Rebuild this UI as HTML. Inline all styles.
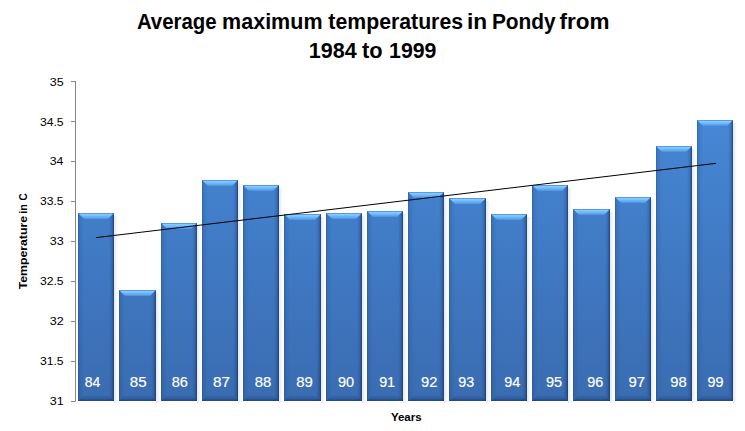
<!DOCTYPE html>
<html><head><meta charset="utf-8"><style>
html,body{margin:0;padding:0;background:#fff;width:745px;height:431px;overflow:hidden;}
svg{display:block;font-family:"Liberation Sans",sans-serif;}
</style></head><body>
<svg width="745" height="431" viewBox="0 0 745 431">
<defs>
<linearGradient id="body" gradientUnits="userSpaceOnUse" x1="0" y1="120" x2="0" y2="401">
 <stop offset="0" stop-color="#4687d5"/>
 <stop offset="1" stop-color="#3a6cb1"/>
</linearGradient>
<linearGradient id="topb" x1="0" y1="0" x2="0" y2="1">
 <stop offset="0" stop-color="#3f80d0"/>
 <stop offset="0.12" stop-color="#5ea6f0"/>
 <stop offset="0.25" stop-color="#82c9ff"/>
 <stop offset="0.5" stop-color="#74bbfb"/>
 <stop offset="0.8" stop-color="#5da2ec"/>
 <stop offset="1" stop-color="#4d8fdc"/>
</linearGradient>
<linearGradient id="leftb" x1="0" y1="0" x2="1" y2="0">
 <stop offset="0" stop-color="#163c78" stop-opacity="0.5"/>
 <stop offset="0.2" stop-color="#163c78" stop-opacity="0.17"/>
 <stop offset="1" stop-color="#163c78" stop-opacity="0"/>
</linearGradient>
<linearGradient id="rightb" x1="0" y1="0" x2="1" y2="0">
 <stop offset="0" stop-color="#0e2e62" stop-opacity="0"/>
 <stop offset="0.5" stop-color="#0e2e62" stop-opacity="0.18"/>
 <stop offset="0.8" stop-color="#0e2e62" stop-opacity="0.42"/>
 <stop offset="1" stop-color="#0e2e62" stop-opacity="0.8"/>
</linearGradient>
<linearGradient id="botb" x1="0" y1="0" x2="0" y2="1">
 <stop offset="0" stop-color="#0e2e62" stop-opacity="0"/>
 <stop offset="0.6" stop-color="#0e2e62" stop-opacity="0.25"/>
 <stop offset="1" stop-color="#0e2e62" stop-opacity="0.6"/>
</linearGradient>
<linearGradient id="shad" x1="0" y1="0" x2="1" y2="0">
 <stop offset="0" stop-color="#000" stop-opacity="0.10"/>
 <stop offset="1" stop-color="#000" stop-opacity="0"/>
</linearGradient>
</defs>
<rect x="75" y="81" width="1" height="320.5" fill="#868686"/>
<rect x="71" y="81" width="4" height="1" fill="#868686"/>
<rect x="71" y="121" width="4" height="1" fill="#868686"/>
<rect x="71" y="161" width="4" height="1" fill="#868686"/>
<rect x="71" y="201" width="4" height="1" fill="#868686"/>
<rect x="71" y="241" width="4" height="1" fill="#868686"/>
<rect x="71" y="281" width="4" height="1" fill="#868686"/>
<rect x="71" y="321" width="4" height="1" fill="#868686"/>
<rect x="71" y="361" width="4" height="1" fill="#868686"/>
<rect x="71" y="401" width="4" height="1" fill="#868686"/>
<text x="49.72" y="86.40" font-family="Liberation Sans" font-size="11.2" fill="#000" textLength="13.90" lengthAdjust="spacingAndGlyphs">35</text>
<text x="39.94" y="126.40" font-family="Liberation Sans" font-size="11.2" fill="#000" textLength="23.67" lengthAdjust="spacingAndGlyphs">34.5</text>
<text x="49.73" y="165.40" font-family="Liberation Sans" font-size="11.2" fill="#000" textLength="13.73" lengthAdjust="spacingAndGlyphs">34</text>
<text x="39.94" y="205.40" font-family="Liberation Sans" font-size="11.2" fill="#000" textLength="23.67" lengthAdjust="spacingAndGlyphs">33.5</text>
<text x="49.72" y="245.40" font-family="Liberation Sans" font-size="11.2" fill="#000" textLength="13.93" lengthAdjust="spacingAndGlyphs">33</text>
<text x="39.94" y="285.40" font-family="Liberation Sans" font-size="11.2" fill="#000" textLength="23.67" lengthAdjust="spacingAndGlyphs">32.5</text>
<text x="49.72" y="325.40" font-family="Liberation Sans" font-size="11.2" fill="#000" textLength="14.01" lengthAdjust="spacingAndGlyphs">32</text>
<text x="39.94" y="365.40" font-family="Liberation Sans" font-size="11.2" fill="#000" textLength="23.67" lengthAdjust="spacingAndGlyphs">31.5</text>
<text x="49.72" y="405.40" font-family="Liberation Sans" font-size="11.2" fill="#000" textLength="13.99" lengthAdjust="spacingAndGlyphs">31</text>
<g>
<rect x="114.00" y="216.00" width="4" height="187.00" fill="url(#shad)"/>
<rect x="78.00" y="213.00" width="36" height="188.00" fill="url(#body)"/>
<rect x="78.00" y="213.00" width="6" height="188.00" fill="url(#leftb)"/>
<rect x="109.00" y="213.00" width="5" height="188.00" fill="url(#rightb)"/>
<polygon points="78.00,401.00 84.00,395.00 108.00,395.00 114.00,401.00" fill="url(#botb)"/>
<polygon points="78.00,213.00 114.00,213.00 108.00,219.00 84.00,219.00" fill="url(#topb)"/>
</g>
<text x="84.69" y="387" font-family="Liberation Sans" font-size="15" fill="#fff" stroke="#fff" stroke-width="0.2" textLength="15.51" lengthAdjust="spacingAndGlyphs">84</text>
<g>
<rect x="156.00" y="293.00" width="4" height="110.00" fill="url(#shad)"/>
<rect x="119.00" y="290.00" width="37" height="111.00" fill="url(#body)"/>
<rect x="119.00" y="290.00" width="6" height="111.00" fill="url(#leftb)"/>
<rect x="151.00" y="290.00" width="5" height="111.00" fill="url(#rightb)"/>
<polygon points="119.00,401.00 125.00,395.00 150.00,395.00 156.00,401.00" fill="url(#botb)"/>
<polygon points="119.00,290.00 156.00,290.00 150.00,296.00 125.00,296.00" fill="url(#topb)"/>
</g>
<text x="129.84" y="387" font-family="Liberation Sans" font-size="15" fill="#fff" stroke="#fff" stroke-width="0.2" textLength="16.79" lengthAdjust="spacingAndGlyphs">85</text>
<g>
<rect x="197.00" y="226.00" width="4" height="177.00" fill="url(#shad)"/>
<rect x="161.00" y="223.00" width="36" height="178.00" fill="url(#body)"/>
<rect x="161.00" y="223.00" width="6" height="178.00" fill="url(#leftb)"/>
<rect x="192.00" y="223.00" width="5" height="178.00" fill="url(#rightb)"/>
<polygon points="161.00,401.00 167.00,395.00 191.00,395.00 197.00,401.00" fill="url(#botb)"/>
<polygon points="161.00,223.00 197.00,223.00 191.00,229.00 167.00,229.00" fill="url(#topb)"/>
</g>
<text x="171.77" y="387" font-family="Liberation Sans" font-size="15" fill="#fff" stroke="#fff" stroke-width="0.2" textLength="16.17" lengthAdjust="spacingAndGlyphs">86</text>
<g>
<rect x="238.00" y="183.00" width="4" height="220.00" fill="url(#shad)"/>
<rect x="202.00" y="180.00" width="36" height="221.00" fill="url(#body)"/>
<rect x="202.00" y="180.00" width="6" height="221.00" fill="url(#leftb)"/>
<rect x="233.00" y="180.00" width="5" height="221.00" fill="url(#rightb)"/>
<polygon points="202.00,401.00 208.00,395.00 232.00,395.00 238.00,401.00" fill="url(#botb)"/>
<polygon points="202.00,180.00 238.00,180.00 232.00,186.00 208.00,186.00" fill="url(#topb)"/>
</g>
<text x="213.03" y="387" font-family="Liberation Sans" font-size="15" fill="#fff" stroke="#fff" stroke-width="0.2" textLength="17.04" lengthAdjust="spacingAndGlyphs">87</text>
<g>
<rect x="279.00" y="188.00" width="4" height="215.00" fill="url(#shad)"/>
<rect x="243.00" y="185.00" width="36" height="216.00" fill="url(#body)"/>
<rect x="243.00" y="185.00" width="6" height="216.00" fill="url(#leftb)"/>
<rect x="274.00" y="185.00" width="5" height="216.00" fill="url(#rightb)"/>
<polygon points="243.00,401.00 249.00,395.00 273.00,395.00 279.00,401.00" fill="url(#botb)"/>
<polygon points="243.00,185.00 279.00,185.00 273.00,191.00 249.00,191.00" fill="url(#topb)"/>
</g>
<text x="254.66" y="387" font-family="Liberation Sans" font-size="15" fill="#fff" stroke="#fff" stroke-width="0.2" textLength="16.49" lengthAdjust="spacingAndGlyphs">88</text>
<g>
<rect x="321.00" y="217.00" width="4" height="186.00" fill="url(#shad)"/>
<rect x="284.00" y="214.00" width="37" height="187.00" fill="url(#body)"/>
<rect x="284.00" y="214.00" width="6" height="187.00" fill="url(#leftb)"/>
<rect x="316.00" y="214.00" width="5" height="187.00" fill="url(#rightb)"/>
<polygon points="284.00,401.00 290.00,395.00 315.00,395.00 321.00,401.00" fill="url(#botb)"/>
<polygon points="284.00,214.00 321.00,214.00 315.00,220.00 290.00,220.00" fill="url(#topb)"/>
</g>
<text x="296.25" y="387" font-family="Liberation Sans" font-size="15" fill="#fff" stroke="#fff" stroke-width="0.2" textLength="16.55" lengthAdjust="spacingAndGlyphs">89</text>
<g>
<rect x="362.00" y="216.00" width="4" height="187.00" fill="url(#shad)"/>
<rect x="326.00" y="213.00" width="36" height="188.00" fill="url(#body)"/>
<rect x="326.00" y="213.00" width="6" height="188.00" fill="url(#leftb)"/>
<rect x="357.00" y="213.00" width="5" height="188.00" fill="url(#rightb)"/>
<polygon points="326.00,401.00 332.00,395.00 356.00,395.00 362.00,401.00" fill="url(#botb)"/>
<polygon points="326.00,213.00 362.00,213.00 356.00,219.00 332.00,219.00" fill="url(#topb)"/>
</g>
<text x="337.92" y="387" font-family="Liberation Sans" font-size="15" fill="#fff" stroke="#fff" stroke-width="0.2" textLength="16.15" lengthAdjust="spacingAndGlyphs">90</text>
<g>
<rect x="403.00" y="214.00" width="4" height="189.00" fill="url(#shad)"/>
<rect x="367.00" y="211.00" width="36" height="190.00" fill="url(#body)"/>
<rect x="367.00" y="211.00" width="6" height="190.00" fill="url(#leftb)"/>
<rect x="398.00" y="211.00" width="5" height="190.00" fill="url(#rightb)"/>
<polygon points="367.00,401.00 373.00,395.00 397.00,395.00 403.00,401.00" fill="url(#botb)"/>
<polygon points="367.00,211.00 403.00,211.00 397.00,217.00 373.00,217.00" fill="url(#topb)"/>
</g>
<text x="379.13" y="387" font-family="Liberation Sans" font-size="15" fill="#fff" stroke="#fff" stroke-width="0.2" textLength="15.97" lengthAdjust="spacingAndGlyphs">91</text>
<g>
<rect x="444.00" y="195.00" width="4" height="208.00" fill="url(#shad)"/>
<rect x="408.00" y="192.00" width="36" height="209.00" fill="url(#body)"/>
<rect x="408.00" y="192.00" width="6" height="209.00" fill="url(#leftb)"/>
<rect x="439.00" y="192.00" width="5" height="209.00" fill="url(#rightb)"/>
<polygon points="408.00,401.00 414.00,395.00 438.00,395.00 444.00,401.00" fill="url(#botb)"/>
<polygon points="408.00,192.00 444.00,192.00 438.00,198.00 414.00,198.00" fill="url(#topb)"/>
</g>
<text x="421.11" y="387" font-family="Liberation Sans" font-size="15" fill="#fff" stroke="#fff" stroke-width="0.2" textLength="16.33" lengthAdjust="spacingAndGlyphs">92</text>
<g>
<rect x="486.00" y="201.00" width="4" height="202.00" fill="url(#shad)"/>
<rect x="449.00" y="198.00" width="37" height="203.00" fill="url(#body)"/>
<rect x="449.00" y="198.00" width="6" height="203.00" fill="url(#leftb)"/>
<rect x="481.00" y="198.00" width="5" height="203.00" fill="url(#rightb)"/>
<polygon points="449.00,401.00 455.00,395.00 480.00,395.00 486.00,401.00" fill="url(#botb)"/>
<polygon points="449.00,198.00 486.00,198.00 480.00,204.00 455.00,204.00" fill="url(#topb)"/>
</g>
<text x="458.23" y="387" font-family="Liberation Sans" font-size="15" fill="#fff" stroke="#fff" stroke-width="0.2" textLength="15.90" lengthAdjust="spacingAndGlyphs">93</text>
<g>
<rect x="527.00" y="217.00" width="4" height="186.00" fill="url(#shad)"/>
<rect x="491.00" y="214.00" width="36" height="187.00" fill="url(#body)"/>
<rect x="491.00" y="214.00" width="6" height="187.00" fill="url(#leftb)"/>
<rect x="522.00" y="214.00" width="5" height="187.00" fill="url(#rightb)"/>
<polygon points="491.00,401.00 497.00,395.00 521.00,395.00 527.00,401.00" fill="url(#botb)"/>
<polygon points="491.00,214.00 527.00,214.00 521.00,220.00 497.00,220.00" fill="url(#topb)"/>
</g>
<text x="504.22" y="387" font-family="Liberation Sans" font-size="15" fill="#fff" stroke="#fff" stroke-width="0.2" textLength="16.10" lengthAdjust="spacingAndGlyphs">94</text>
<g>
<rect x="568.00" y="188.00" width="4" height="215.00" fill="url(#shad)"/>
<rect x="532.00" y="185.00" width="36" height="216.00" fill="url(#body)"/>
<rect x="532.00" y="185.00" width="6" height="216.00" fill="url(#leftb)"/>
<rect x="563.00" y="185.00" width="5" height="216.00" fill="url(#rightb)"/>
<polygon points="532.00,401.00 538.00,395.00 562.00,395.00 568.00,401.00" fill="url(#botb)"/>
<polygon points="532.00,185.00 568.00,185.00 562.00,191.00 538.00,191.00" fill="url(#topb)"/>
</g>
<text x="545.92" y="387" font-family="Liberation Sans" font-size="15" fill="#fff" stroke="#fff" stroke-width="0.2" textLength="16.19" lengthAdjust="spacingAndGlyphs">95</text>
<g>
<rect x="610.00" y="212.00" width="4" height="191.00" fill="url(#shad)"/>
<rect x="573.00" y="209.00" width="37" height="192.00" fill="url(#body)"/>
<rect x="573.00" y="209.00" width="6" height="192.00" fill="url(#leftb)"/>
<rect x="605.00" y="209.00" width="5" height="192.00" fill="url(#rightb)"/>
<polygon points="573.00,401.00 579.00,395.00 604.00,395.00 610.00,401.00" fill="url(#botb)"/>
<polygon points="573.00,209.00 610.00,209.00 604.00,215.00 579.00,215.00" fill="url(#topb)"/>
</g>
<text x="587.23" y="387" font-family="Liberation Sans" font-size="15" fill="#fff" stroke="#fff" stroke-width="0.2" textLength="16.01" lengthAdjust="spacingAndGlyphs">96</text>
<g>
<rect x="651.00" y="200.00" width="4" height="203.00" fill="url(#shad)"/>
<rect x="615.00" y="197.00" width="36" height="204.00" fill="url(#body)"/>
<rect x="615.00" y="197.00" width="6" height="204.00" fill="url(#leftb)"/>
<rect x="646.00" y="197.00" width="5" height="204.00" fill="url(#rightb)"/>
<polygon points="615.00,401.00 621.00,395.00 645.00,395.00 651.00,401.00" fill="url(#botb)"/>
<polygon points="615.00,197.00 651.00,197.00 645.00,203.00 621.00,203.00" fill="url(#topb)"/>
</g>
<text x="628.40" y="387" font-family="Liberation Sans" font-size="15" fill="#fff" stroke="#fff" stroke-width="0.2" textLength="16.65" lengthAdjust="spacingAndGlyphs">97</text>
<g>
<rect x="692.00" y="149.00" width="4" height="254.00" fill="url(#shad)"/>
<rect x="656.00" y="146.00" width="36" height="255.00" fill="url(#body)"/>
<rect x="656.00" y="146.00" width="6" height="255.00" fill="url(#leftb)"/>
<rect x="687.00" y="146.00" width="5" height="255.00" fill="url(#rightb)"/>
<polygon points="656.00,401.00 662.00,395.00 686.00,395.00 692.00,401.00" fill="url(#botb)"/>
<polygon points="656.00,146.00 692.00,146.00 686.00,152.00 662.00,152.00" fill="url(#topb)"/>
</g>
<text x="670.21" y="387" font-family="Liberation Sans" font-size="15" fill="#fff" stroke="#fff" stroke-width="0.2" textLength="16.43" lengthAdjust="spacingAndGlyphs">98</text>
<g>
<rect x="733.00" y="123.00" width="4" height="280.00" fill="url(#shad)"/>
<rect x="697.00" y="120.00" width="36" height="281.00" fill="url(#body)"/>
<rect x="697.00" y="120.00" width="6" height="281.00" fill="url(#leftb)"/>
<rect x="728.00" y="120.00" width="5" height="281.00" fill="url(#rightb)"/>
<polygon points="697.00,401.00 703.00,395.00 727.00,395.00 733.00,401.00" fill="url(#botb)"/>
<polygon points="697.00,120.00 733.00,120.00 727.00,126.00 703.00,126.00" fill="url(#topb)"/>
</g>
<text x="707.53" y="387" font-family="Liberation Sans" font-size="15" fill="#fff" stroke="#fff" stroke-width="0.2" textLength="15.95" lengthAdjust="spacingAndGlyphs">99</text>
<line x1="96.3" y1="237.6" x2="715.5" y2="163.4" stroke="#000" stroke-width="1.0" stroke-linecap="round"/>
<text x="136.90" y="28.9" font-family="Liberation Sans" font-weight="bold" font-size="21.6" fill="#000" textLength="79.79" lengthAdjust="spacingAndGlyphs">Average</text>
<text x="222.08" y="28.9" font-family="Liberation Sans" font-weight="bold" font-size="21.6" fill="#000" textLength="100.45" lengthAdjust="spacingAndGlyphs">maximum</text>
<text x="328.34" y="28.9" font-family="Liberation Sans" font-weight="bold" font-size="21.6" fill="#000" textLength="134.73" lengthAdjust="spacingAndGlyphs">temperatures</text>
<text x="467.01" y="28.9" font-family="Liberation Sans" font-weight="bold" font-size="21.6" fill="#000" textLength="20.20" lengthAdjust="spacingAndGlyphs">in</text>
<text x="491.90" y="28.9" font-family="Liberation Sans" font-weight="bold" font-size="21.6" fill="#000" textLength="63.81" lengthAdjust="spacingAndGlyphs">Pondy</text>
<text x="559.51" y="28.9" font-family="Liberation Sans" font-weight="bold" font-size="21.6" fill="#000" textLength="50.08" lengthAdjust="spacingAndGlyphs">from</text>
<text x="308.84" y="57.9" font-family="Liberation Sans" font-weight="bold" font-size="21.6" fill="#000" textLength="47.97" lengthAdjust="spacingAndGlyphs">1984</text>
<text x="362.03" y="57.9" font-family="Liberation Sans" font-weight="bold" font-size="21.6" fill="#000" textLength="20.62" lengthAdjust="spacingAndGlyphs">to</text>
<text x="389.06" y="57.9" font-family="Liberation Sans" font-weight="bold" font-size="21.6" fill="#000" textLength="47.43" lengthAdjust="spacingAndGlyphs">1999</text>
<text transform="translate(27.1,289.34) rotate(-90)" x="0" y="0" font-family="Liberation Sans" font-weight="bold" font-size="11.6" fill="#000" textLength="73.35" lengthAdjust="spacingAndGlyphs">Temperature</text>
<text transform="translate(27.1,213.65) rotate(-90)" x="0" y="0" font-family="Liberation Sans" font-weight="bold" font-size="11.6" fill="#000" textLength="9.51" lengthAdjust="spacingAndGlyphs">in</text>
<text transform="translate(27.1,200.61) rotate(-90)" x="0" y="0" font-family="Liberation Sans" font-weight="bold" font-size="11.6" fill="#000" textLength="7.18" lengthAdjust="spacingAndGlyphs">C</text>
<text x="390.91" y="420.9" font-family="Liberation Sans" font-weight="bold" font-size="11.2" fill="#000" textLength="30.76" lengthAdjust="spacingAndGlyphs">Years</text>
</svg>
</body></html>
